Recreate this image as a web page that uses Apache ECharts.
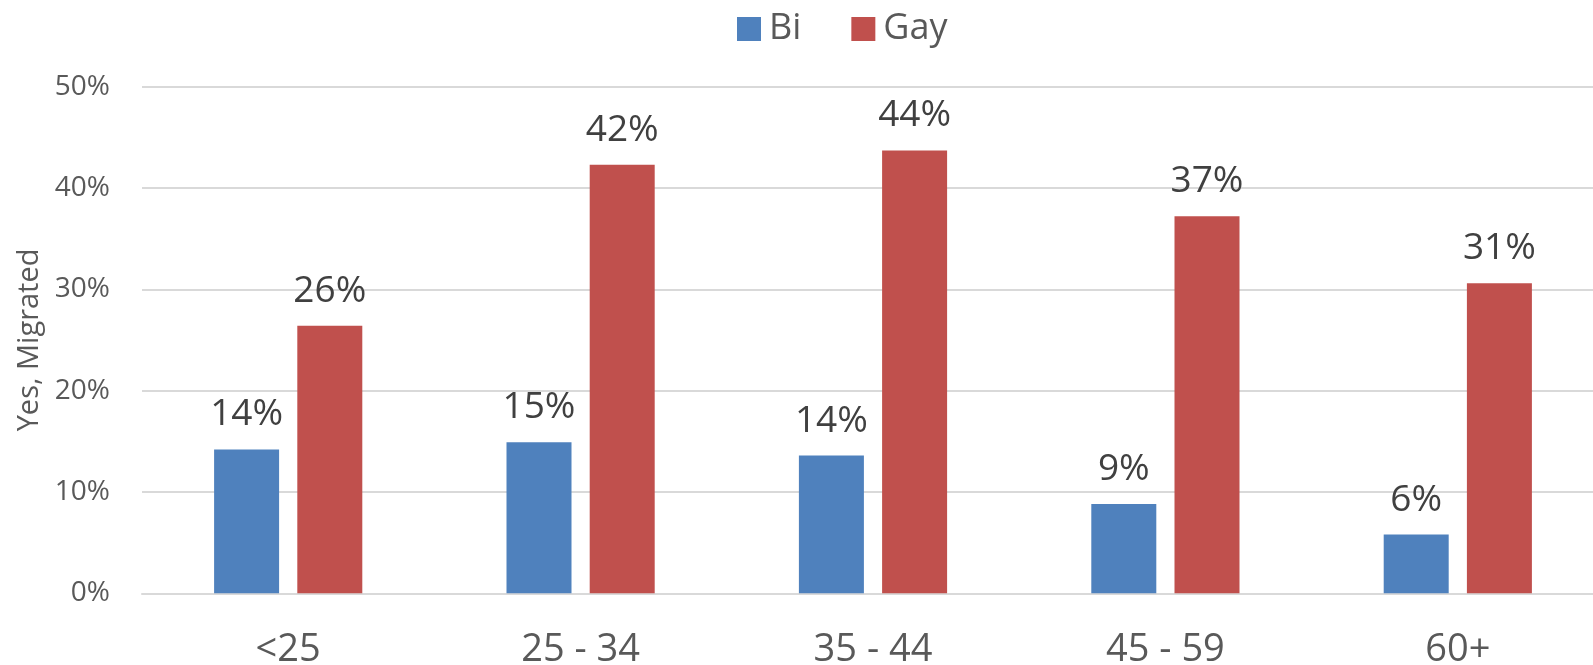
<!DOCTYPE html>
<html>
<head>
<meta charset="utf-8">
<script src="https://cdn.jsdelivr.net/npm/echarts@6/dist/echarts.min.js"></script>
<style>
html,body{margin:0;padding:0;background:#fff;}
#chart{width:1593px;height:665px;}
</style>
</head>
<body>
<div id="chart"></div>
<script>
const categories = ['<25', '25 - 34', '35 - 44', '45 - 59', '60+'];
const biValues = [14.2, 14.9, 13.6, 8.8, 5.8];
const gayValues = [26.4, 42.3, 43.7, 37.2, 30.6];
const yTicks = [0, 10, 20, 30, 40, 50];
const seriesNames = ['Bi', 'Gay'];
const yAxisTitle = 'Yes, Migrated';

const FONT = '"Open Sans", "Noto Sans", sans-serif';
const chart = echarts.init(document.getElementById('chart'));
const labelCfg = {
  show: true,
  position: 'top',
  distance: 16,
  fontFamily: FONT,
  fontSize: 37,
  color: '#404040',
  formatter: p => Math.round(p.value) + '%'
};
chart.setOption({
  animation: false,
  backgroundColor: '#ffffff',
  textStyle: { fontFamily: FONT },
  legend: {
    data: seriesNames,
    left: 732,
    top: 6,
    itemWidth: 24,
    itemHeight: 24,
    itemGap: 50,
    icon: 'rect',
    textStyle: { fontFamily: FONT, fontSize: 36, color: '#595959', padding: [0, 0, 0, 3] }
  },
  grid: { left: 142, right: -11, top: 86.6, bottom: 71.7, containLabel: false, outerBoundsMode: 'none' },
  xAxis: {
    type: 'category',
    data: categories,
    axisLine: { show: true, lineStyle: { color: '#d9d9d9', width: 2 } },
    axisTick: { show: false },
    axisLabel: { fontFamily: FONT, fontSize: 38, color: '#595959', margin: 38 }
  },
  yAxis: {
    type: 'value',
    min: yTicks[0],
    max: yTicks[yTicks.length - 1],
    interval: 10,
    name: yAxisTitle,
    nameLocation: 'middle',
    nameGap: 98,
    nameTextStyle: { fontFamily: FONT, fontSize: 29, color: '#595959' },
    axisLine: { show: false },
    axisTick: { show: false },
    splitLine: { lineStyle: { color: '#d9d9d9', width: 2 } },
    axisLabel: { fontFamily: FONT, fontSize: 28, color: '#595959', margin: 32, formatter: '{value}%' }
  },
  series: [
    {
      name: seriesNames[0], type: 'bar', data: biValues,
      barWidth: 65, barGap: '28%',
      itemStyle: { color: '#4f81bd' },
      label: labelCfg
    },
    {
      name: seriesNames[1], type: 'bar', data: gayValues,
      barWidth: 65, barGap: '28%',
      itemStyle: { color: '#c0504d' },
      label: labelCfg
    }
  ]
});
</script>
</body>
</html>
